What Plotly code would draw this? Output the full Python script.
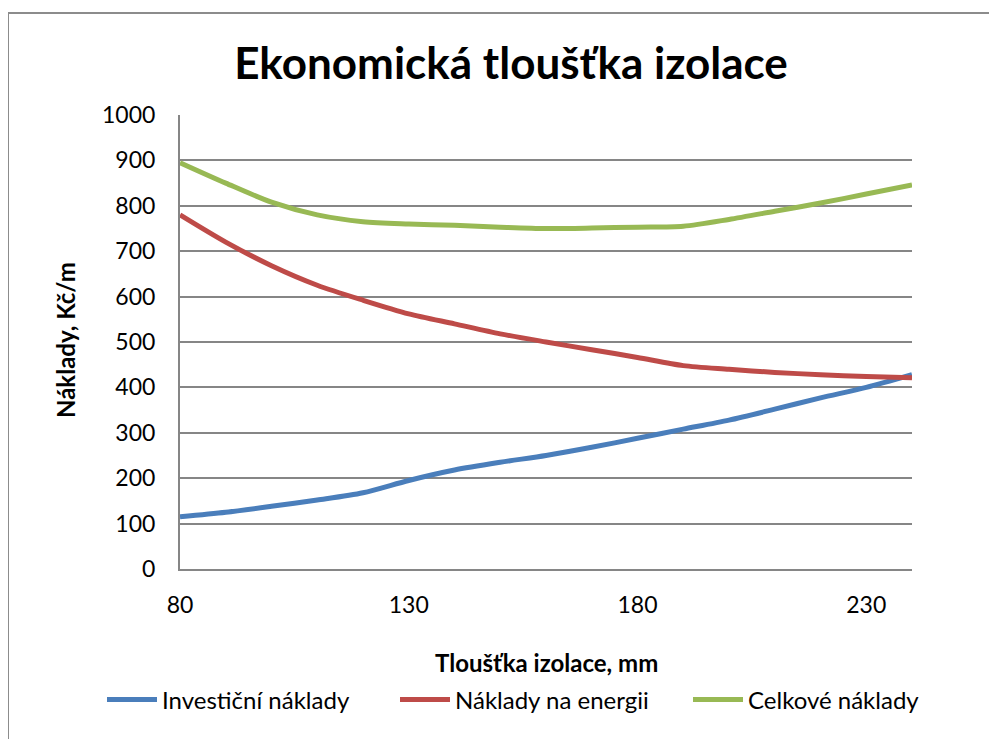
import plotly.graph_objects as go

# tloušťka izolace (mm) a náklady (Kč/m)
tloustka = [80, 90, 100, 110, 120, 130, 140, 150, 160, 170, 180, 190, 200, 210, 220, 230, 240]
investicni = [115, 125, 138, 152, 168, 195, 218, 235, 250, 268, 288, 308, 328, 352, 377, 400, 428]
energie = [780, 720, 668, 625, 592, 562, 540, 518, 500, 483, 466, 448, 440, 433, 428, 424, 421]
celkove = [895, 850, 808, 780, 765, 760, 757, 753, 750, 751, 753, 755, 770, 788, 806, 826, 846]

x_ticks = [80, 130, 180, 230]
y_ticks = [0, 100, 200, 300, 400, 500, 600, 700, 800, 900, 1000]

FONT = "Lato"
GRID = "#868686"

# stránka má okraj 8 px, plocha grafu na obrazovce: x 180-912, y 115-569
OFF = 8

fig = go.Figure()

serie = [
    ("Investiční náklady", investicni, "#4A7EBB"),
    ("Náklady na energii", energie, "#BE4B48"),
    ("Celkové náklady", celkove, "#98B954"),
]
for nazev, hodnoty, barva in serie:
    fig.add_trace(go.Scatter(
        x=tloustka,
        y=hodnoty,
        name=nazev,
        mode="lines",
        line=dict(color=barva, width=5, shape="spline", smoothing=0.8),
    ))

# rámeček grafu (Excel chart area)
fig.add_shape(
    type="rect", xref="paper", yref="paper",
    x0=(8 - 180) / 732, x1=(1010 - 180) / 732,
    y0=(569 - 760) / 454, y1=(569 - 13) / 454,
    line=dict(color="#8c8c8c", width=2), fillcolor="rgba(0,0,0,0)",
)

fig.add_annotation(
    text="<b>Náklady, Kč/m</b>", textangle=-90,
    xref="paper", yref="paper", x=(65 - 180) / 732, y=(569 - 340) / 454,
    xanchor="center", yanchor="middle",
    showarrow=False, font=dict(family=FONT, size=24, color="black"),
)
fig.add_annotation(
    text="<b>Tloušťka izolace, mm</b>",
    xref="paper", yref="paper", x=(546 - 180) / 732, y=(569 - 662) / 454,
    xanchor="center", yanchor="middle",
    showarrow=False, font=dict(family=FONT, size=24, color="black"),
)

fig.update_layout(
    width=997,
    height=739,
    paper_bgcolor="white",
    plot_bgcolor="white",
    font=dict(family=FONT, size=23, color="black"),
    margin=dict(l=180 - OFF, r=997 - (912 - OFF), t=115 - OFF, b=739 - (569 - OFF)),
    title=dict(
        text="<b>Ekonomická tloušťka izolace</b>",
        x=(511 - OFF) / 997, xanchor="center",
        y=1 - (64 - OFF) / 739, yanchor="middle", yref="container",
        font=dict(family=FONT, size=44, color="black"),
    ),
    xaxis=dict(
        range=[80, 240],
        tickvals=x_ticks,
        showgrid=False,
        showline=True, linecolor=GRID, linewidth=2,
        ticks="", ticklabelstandoff=14,
        zeroline=False,
    ),
    yaxis=dict(
        range=[0, 1000],
        tickvals=y_ticks,
        showgrid=True, gridcolor=GRID, gridwidth=2,
        showline=True, linecolor=GRID, linewidth=2,
        ticks="", ticklabelstandoff=18,
        zeroline=False,
    ),
    showlegend=True,
    legend=dict(
        orientation="h",
        x=(102 - 180) / 732, xanchor="left",
        y=(569 - 700) / 454, yanchor="middle",
        font=dict(family=FONT, size=24),
        itemwidth=50,
        entrywidth=228,
        traceorder="normal",
    ),
)

fig.write_html("out.html")
